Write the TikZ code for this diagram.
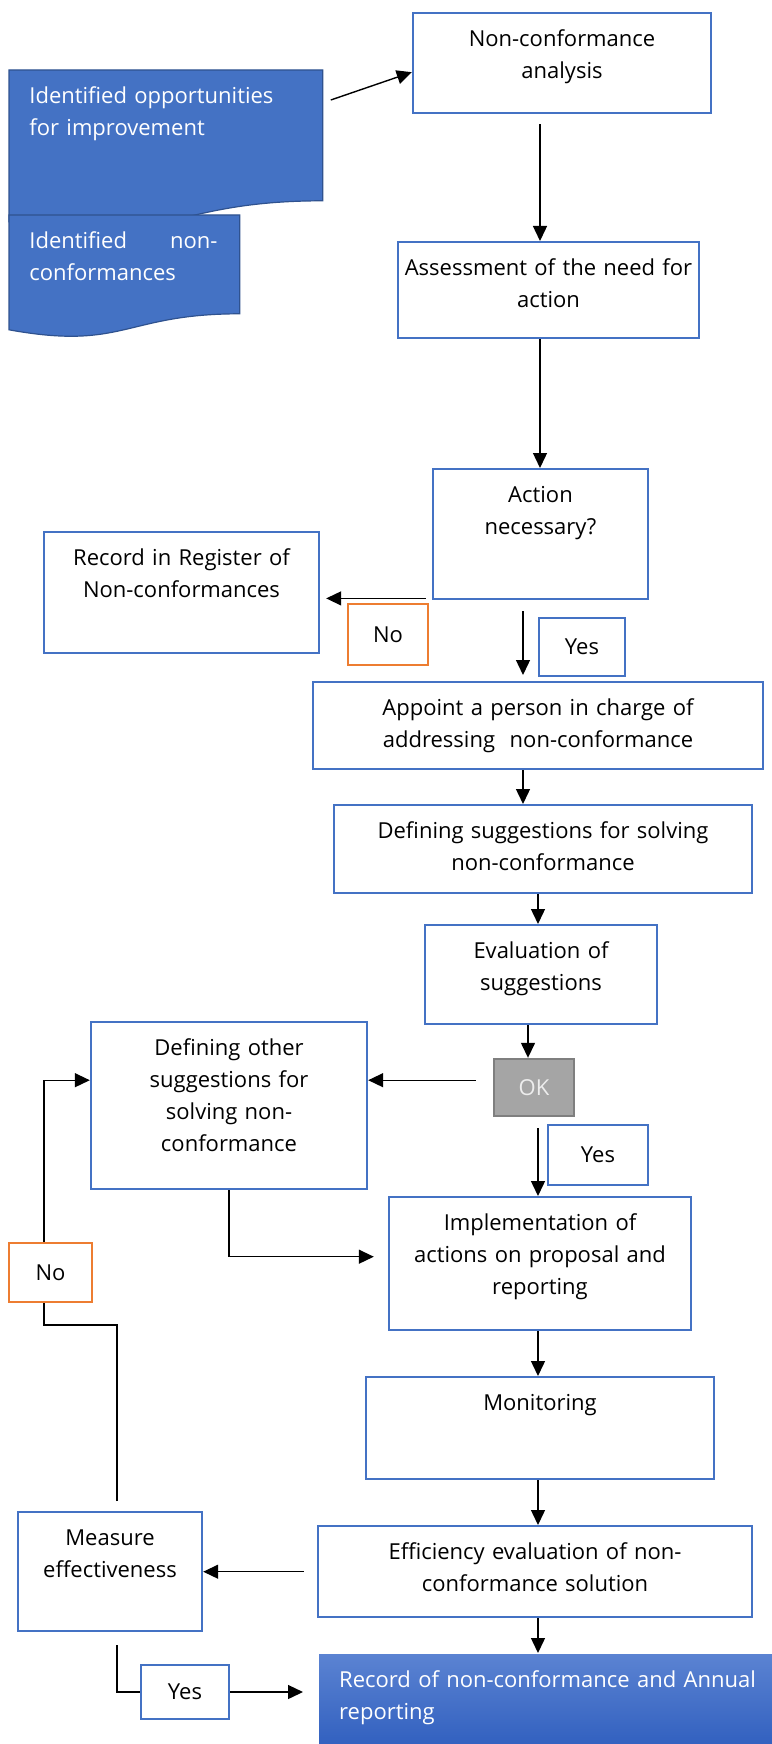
\documentclass[tikz,border=0pt]{standalone}
\usepackage{fontspec}
\setmainfont{Open Sans}
\usepackage{tikz}
\usetikzlibrary{arrows.meta,calc,backgrounds}
\definecolor{ncBlue}{HTML}{4472C4}
\definecolor{ncBlueDark}{HTML}{2F528F}
\definecolor{ncOrange}{HTML}{ED7D31}
\definecolor{ncGrey}{HTML}{A5A5A5}
\definecolor{ncGreyDark}{HTML}{7F7F7F}
\definecolor{ncGreyText}{HTML}{EDEDED}
\definecolor{ncRecTop}{HTML}{5B83D2}
\definecolor{ncRecBot}{HTML}{2F5EBE}

\begin{document}
\begin{tikzpicture}[
  x=0.5pt, y=-0.5pt,
  font=\fontsize{11pt}{16pt}\selectfont,
  stepbox/.style={rectangle,draw=ncBlue,line width=1.2pt,fill=white,anchor=north,align=center,inner xsep=2pt,inner ysep=0pt,text height=16.5pt},
  docbox/.style={rectangle,anchor=north west,align=left,text=white,inner xsep=10pt,inner ysep=0pt,text height=16.5pt},
  docfill/.style={fill=ncBlue,draw=ncBlueDark,line width=0.6pt},
  yesbox/.style={rectangle,draw=ncBlue,line width=1.2pt,fill=white,inner sep=0pt},
  nobox/.style={yesbox,draw=ncOrange},
  okbox/.style={rectangle,draw=ncGreyDark,fill=ncGrey,line width=1.2pt,text=ncGreyText,inner sep=0pt},
  link/.style={draw=black,line width=0.7pt},
  arr/.style={link,-{Triangle[length=7.5pt,width=7pt]}}
]
\useasboundingbox (0,0) rectangle (771,1744);

% input documents
\node[docbox,text width=136.5pt,text depth=48.5pt] (opp) at (9,70) {Identified opportunities\\for improvement};
\node[docbox,text width=95pt,text depth=32.5pt] (nonc) at (9,215) {\makebox[94pt][l]{Identified\hfill non-}\\conformances};
\begin{scope}[on background layer]
\path[docfill] (opp.north west) -- (opp.north east) -- (opp.south east)
  .. controls (opp.south) and ($(opp.south)+(0,49)$) .. ($(opp.south west)+(0,21)$) -- cycle;
\path[docfill] (nonc.north west) -- (nonc.north east) -- (nonc.south east)
  .. controls (nonc.south) and ($(nonc.south)+(0,37)$) .. ($(nonc.south west)+(0,16)$) -- cycle;
\end{scope}

% main column
\node[stepbox,text width=145pt,text depth=33.5pt] (nca) at (562,12) {Non-conformance\\analysis};
\node[stepbox,text width=146.5pt,text depth=31.5pt] (ass) at (548.5,241) {Assessment of the need for\\action};
\node[stepbox,text width=103.5pt,text depth=48.5pt] (act) at (540.5,468) {Action\\necessary?};
\node[stepbox,text width=221pt,text depth=27pt] (app) at (538,681) {Appoint a person in charge of\\addressing\ \ non-conformance};
\node[stepbox,text width=205pt,text depth=27.5pt] (def) at (543,804) {Defining suggestions for solving\\non-conformance};
\node[stepbox,text width=112pt,text depth=33pt] (eval) at (541,924) {Evaluation of\\suggestions};
\node[okbox,minimum width=40pt,minimum height=28.5pt] (ok) at (534,1087.5) {OK};
\node[stepbox,text width=147pt,text depth=50pt] (impl) at (540,1196) {Implementation of\\actions on proposal and\\reporting};
\node[stepbox,text width=170pt,text depth=34.5pt] (mon) at (540,1376) {Monitoring};
\node[stepbox,text width=213pt,text depth=29pt] (eff) at (535,1525) {Efficiency evaluation of non-\\conformance solution};
\node[stepbox,anchor=north west,align=left,text width=218pt,inner xsep=10pt,text depth=32pt,
      top color=ncRecTop,bottom color=ncRecBot,draw=none,text=white] (rec) at (318,1653) {Record of non-conformance and Annual\\reporting};

% side boxes
\node[stepbox,text width=133.5pt,text depth=44pt] (reg) at (181.5,531) {Record in Register of\\Non-conformances};
\node[stepbox,text width=134pt,text depth=67pt] (dother) at (229,1021) {Defining other\\suggestions for\\solving non-\\conformance};
\node[stepbox,text width=88pt,text depth=43pt] (meas) at (110,1511) {Measure\\effectiveness};

% yes / no labels
\node[nobox,minimum width=40pt,minimum height=30.5pt] (no1) at (388,634.5) {No};
\node[yesbox,minimum width=43pt,minimum height=29pt] (yes1) at (582,647) {Yes};
\node[yesbox,minimum width=50pt,minimum height=30pt] (yes2) at (598,1155) {Yes};
\node[nobox,minimum width=41.5pt,minimum height=29.5pt] (no2) at (50.5,1272.5) {No};
\node[yesbox,minimum width=44pt,minimum height=27pt] (yes3) at (185,1692) {Yes};

\coordinate (c1) at (540,0);
\coordinate (c2) at (523,0);
\coordinate (c3) at (538,0);
\coordinate (c4) at (528,0);
\coordinate (loopturn) at (80,1325);

% arrows down the main column
\draw[arr] ($(opp.north east)+(8,30)$) -- ($(nca.west)+(0,9)$);
\draw[arr,shorten <=5pt] (nca.south -| c1) -- (ass.north -| c1);
\draw[arr] (ass.south -| c1) -- (act.north -| c1);
\draw[arr,shorten <=5.5pt,shorten >=3pt] (act.south -| c2) -- (app.north -| c2);
\draw[arr] (app.south -| c2) -- (def.north -| c2);
\draw[arr] (def.south -| c3) -- (eval.north -| c3);
\draw[arr] (eval.south -| c4) -- (ok.north -| c4);
\draw[arr,shorten <=5.5pt] (ok.south -| c3) -- (impl.north -| c3);
\draw[arr] (impl.south -| c3) -- (mon.north -| c3);
\draw[arr] (mon.south -| c3) -- (eff.north -| c3);
\draw[arr] (eff.south -| c3) -- (rec.north -| c3);

% side branches
\draw[arr,shorten >=3pt] ($(act.south west)+(-6,-2)$) -- ($(act.south west -| reg.east)+(0,-2)$);
\draw[arr,shorten <=8.5pt] ([yshift=12.75pt]dother.east -| ok.west) -- ([yshift=12.75pt]dother.east);
\draw[arr,shorten >=7pt] (dother.south) |- ([yshift=3.5pt]impl.west);
\draw[arr,shorten <=6.5pt] (eff.west) -- (meas.east);
\draw[link,shorten <=6.5pt] ([xshift=3.5pt]meas.south) |- (yes3.west);
\draw[arr,shorten >=7.5pt] (yes3.east) -- (yes3.east -| rec.west);

% loop back
\draw[link,shorten <=5pt] ([xshift=3.5pt]meas.north) |- (loopturn) -| ([xshift=-3.25pt]no2.south);
\draw[arr] ([xshift=-3.25pt]no2.north) |- ([yshift=12.75pt]dother.west);
\end{tikzpicture}
\end{document}
